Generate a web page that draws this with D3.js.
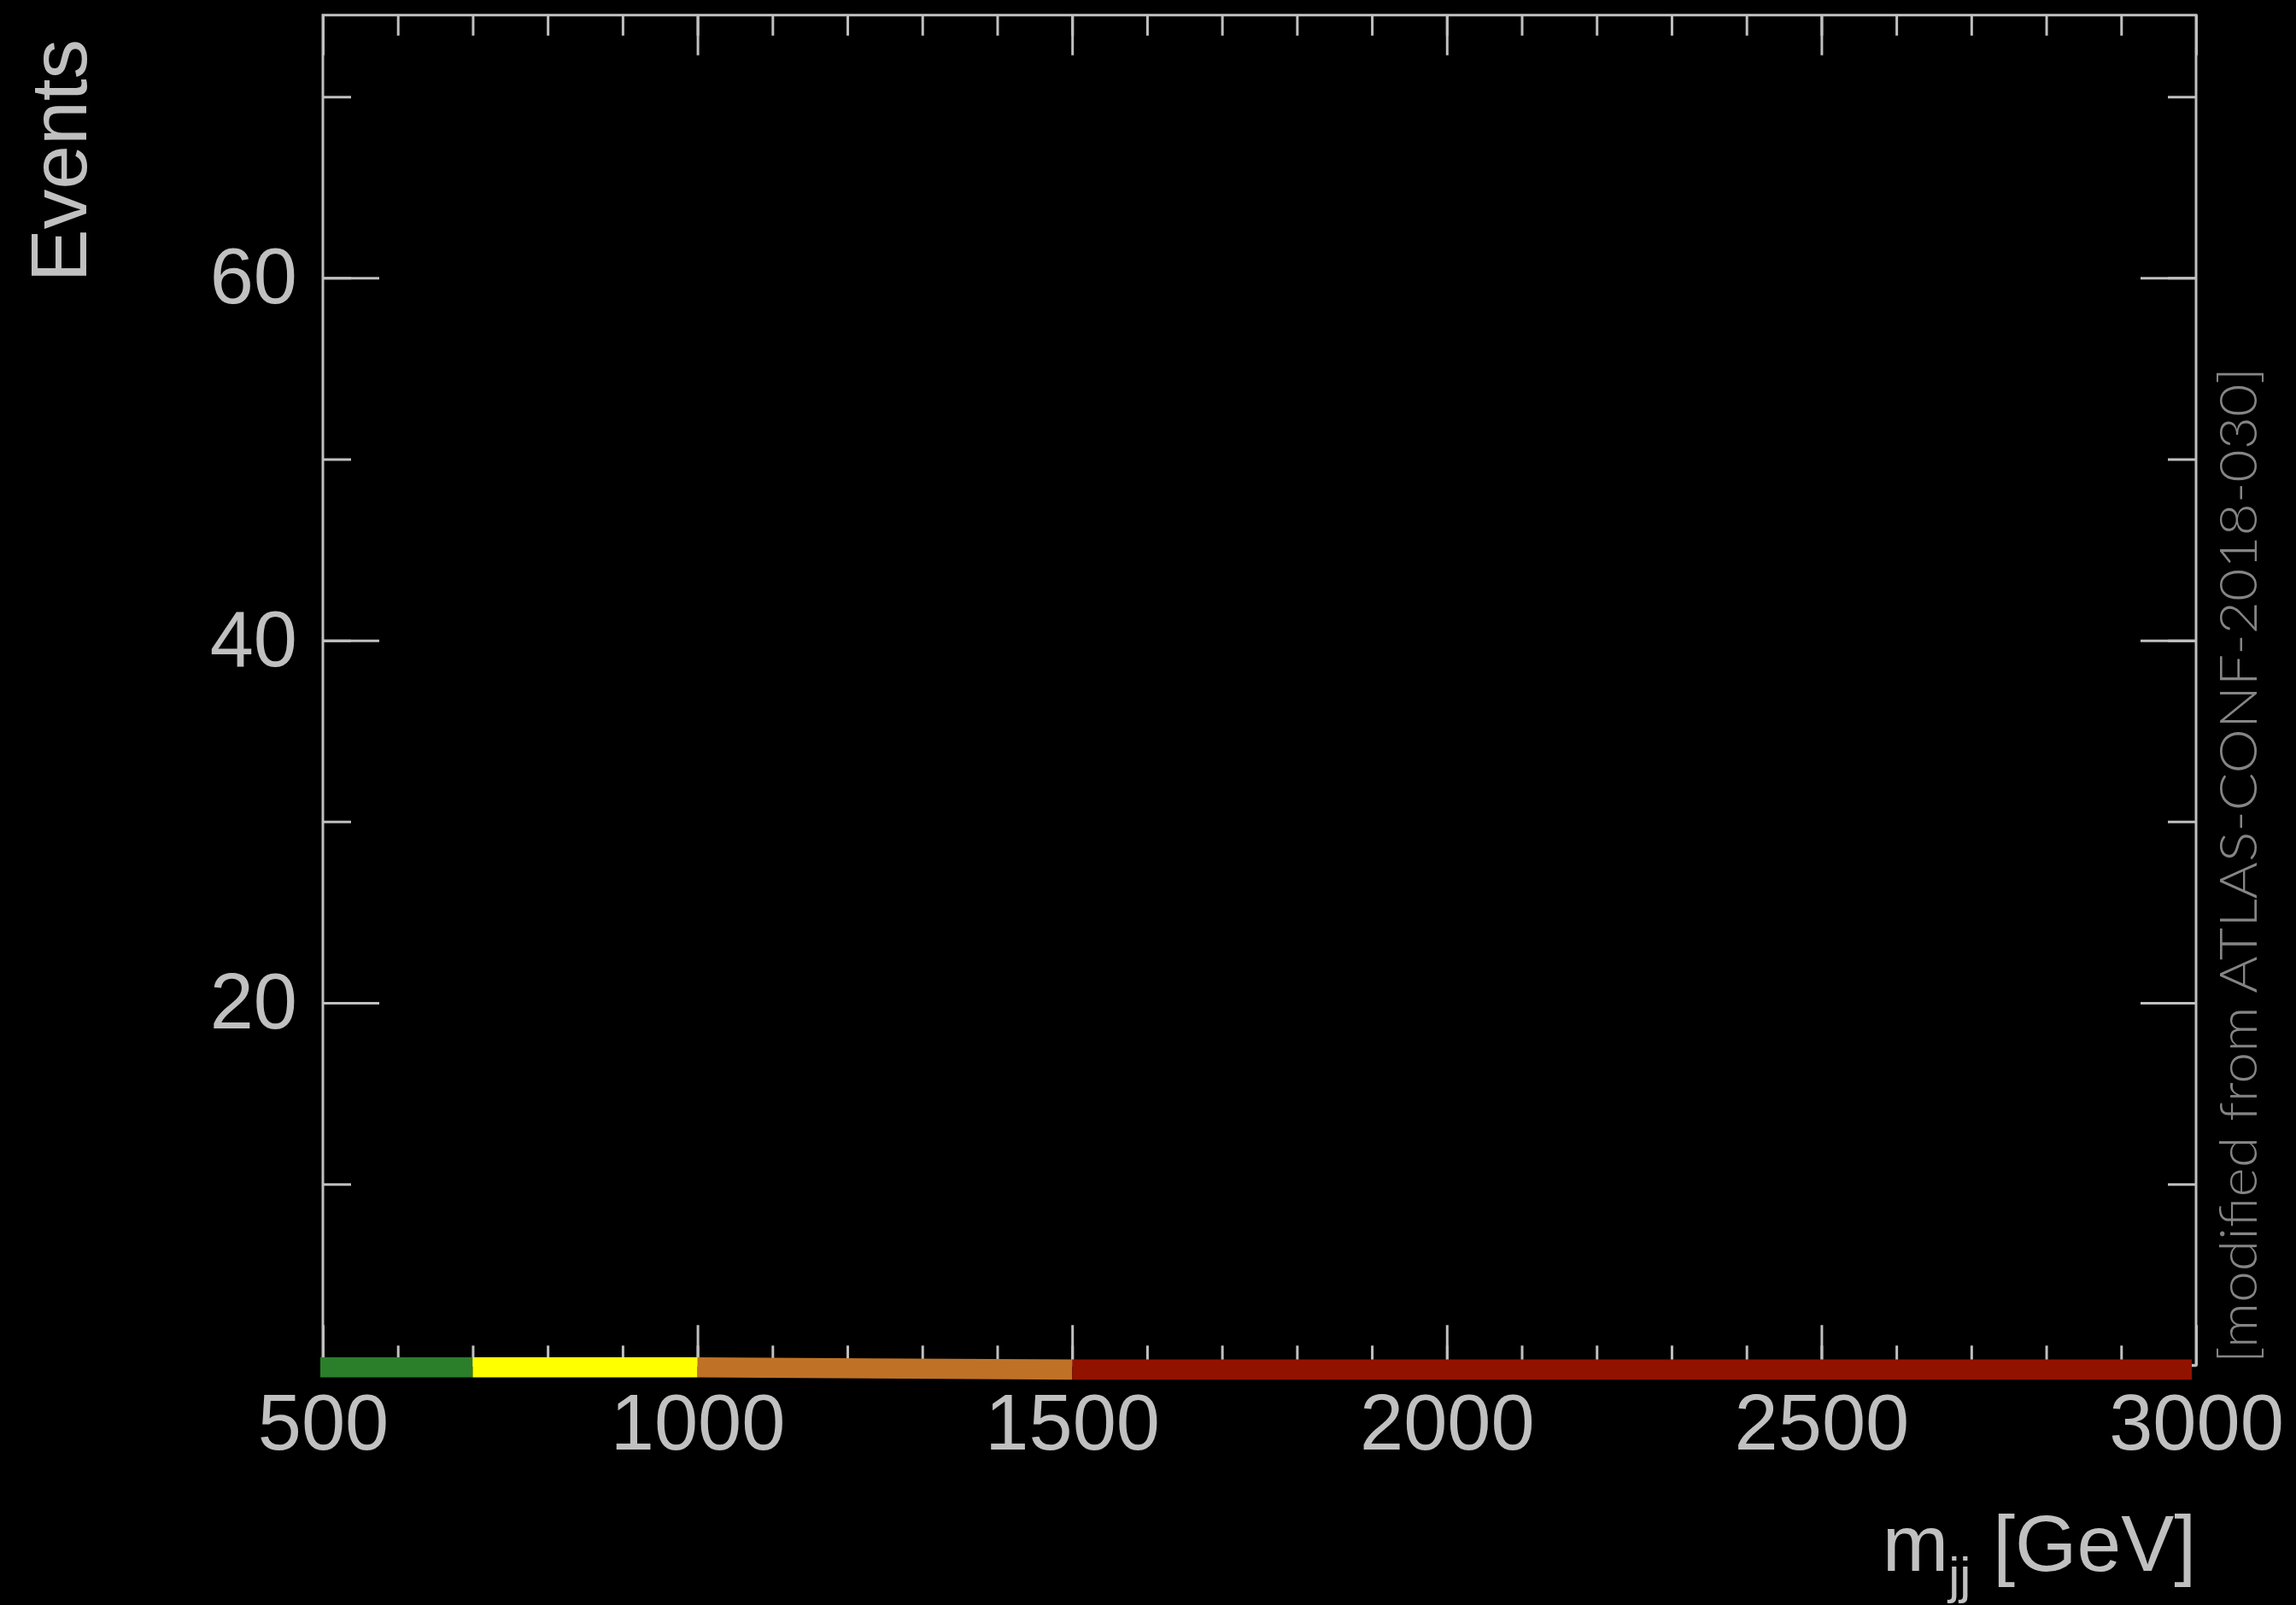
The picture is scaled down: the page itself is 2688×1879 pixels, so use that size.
<!DOCTYPE html>
<html>
<head>
<meta charset="utf-8">
<script src="https://cdn.jsdelivr.net/npm/d3@7"></script>
<style>
  html, body { margin: 0; padding: 0; background: #000; }
  svg { display: block; }
</style>
</head>
<body>
<svg id="chart" width="2688" height="1879"></svg>
<script>
// Axis ranges and tick marks
const xDomain = [500, 3000];
const yDomain = [0, 74.5];
const xMajorTicks = [500, 1000, 1500, 2000, 2500, 3000];
const xMinorTicks = d3.range(500, 3001, 100);
const yMajorTicks = [20, 40, 60];
const yMinorTicks = d3.range(0, 75, 10);

// Mass regions shown as a coloured strip along the baseline
const regionStart = [500, 700, 1000, 1500];
const regionEnd   = [700, 1000, 1500, 3000];
const regionColor = ["#2b7f2b", "#ffff00", "#bf7226", "#921200"];

const xTitle = "m";
const xTitleSub = "jj";
const xTitleUnit = " [GeV]";
const yTitle = "Events";
const sourceNote = "[modified from ATLAS-CONF-2018-030]";

// ---- layout ----
const W = 2688, H = 1879;
const plotLeft = 378, plotRight = 2571, plotTop = 17.7, plotBottom = 1598.3;
const axisColor = "#c0c0c0";
const font = "'Liberation Sans', Arial, Helvetica, sans-serif";
const tickFontSize = 92;

const svg = d3.select("#chart");
svg.append("rect").attr("width", W).attr("height", H).attr("fill", "#000");

const x = d3.scaleLinear().domain(xDomain).range([plotLeft, plotRight]);
const y = d3.scaleLinear().domain(yDomain).range([plotBottom, plotTop]);

// Frame
svg.append("rect")
  .attr("x", plotLeft).attr("y", plotTop)
  .attr("width", plotRight - plotLeft).attr("height", plotBottom - plotTop)
  .attr("fill", "none").attr("stroke", axisColor).attr("stroke-width", 3);

function styleAxis(g) {
  g.select(".domain").remove();
  g.selectAll(".tick line").attr("stroke", axisColor).attr("stroke-width", 3);
  g.selectAll(".tick text")
    .attr("fill", axisColor)
    .attr("font-family", font)
    .attr("font-size", tickFontSize);
}

// Minor ticks (inward)
svg.append("g").attr("transform", `translate(0,${plotBottom})`)
  .call(d3.axisBottom(x).tickValues(xMinorTicks).tickSize(-23).tickFormat(""))
  .call(styleAxis);
svg.append("g").attr("transform", `translate(0,${plotTop})`)
  .call(d3.axisTop(x).tickValues(xMinorTicks).tickSize(-24).tickFormat(""))
  .call(styleAxis);
svg.append("g").attr("transform", `translate(${plotLeft},0)`)
  .call(d3.axisLeft(y).tickValues(yMinorTicks).tickSize(-33).tickFormat(""))
  .call(styleAxis);
svg.append("g").attr("transform", `translate(${plotRight},0)`)
  .call(d3.axisRight(y).tickValues(yMinorTicks).tickSize(-33).tickFormat(""))
  .call(styleAxis);

// Major ticks with labels
svg.append("g").attr("transform", `translate(0,${plotBottom})`)
  .call(d3.axisBottom(x).tickValues(xMajorTicks).tickSize(-47).tickPadding(33).tickFormat(d3.format("d")))
  .call(styleAxis);
svg.append("g").attr("transform", `translate(0,${plotTop})`)
  .call(d3.axisTop(x).tickValues(xMajorTicks).tickSize(-47).tickFormat(""))
  .call(styleAxis);
svg.append("g").attr("transform", `translate(${plotLeft},0)`)
  .call(d3.axisLeft(y).tickValues(yMajorTicks).tickSize(-66).tickPadding(30).tickFormat(d3.format("d")))
  .call(styleAxis);
svg.append("g").attr("transform", `translate(${plotRight},0)`)
  .call(d3.axisRight(y).tickValues(yMajorTicks).tickSize(-65).tickFormat(""))
  .call(styleAxis);

// Coloured region strip; the strip sits slightly lower after 1 TeV
const stripHalf = 11.8;
const stripY0 = y(0) + 2.5;
const lean = v => v <= 1000 ? 0 : (v >= 1500 ? 2.6 : 2.6 * (v - 1000) / 500);
const regions = regionStart.map((s, i) => ({ s, e: regionEnd[i], c: regionColor[i] }));
svg.append("g").selectAll("path").data(regions).join("path")
  .attr("d", d => {
    const x0 = d.s === xDomain[0] ? x(d.s) - 3 : x(d.s);
    const x1 = d.e === xDomain[1] ? x(d.e) - 5 : x(d.e);
    const a = stripY0 + lean(d.s), b = stripY0 + lean(d.e);
    return `M${x0},${a - stripHalf}L${x1},${b - stripHalf}L${x1},${b + stripHalf}L${x0},${a + stripHalf}Z`;
  })
  .attr("fill", d => d.c);

// Axis titles
svg.append("text")
  .attr("transform", "translate(101,46) rotate(-90)")
  .attr("text-anchor", "end")
  .attr("fill", axisColor)
  .attr("font-family", font)
  .attr("font-size", 93)
  .text(yTitle);

const xt = svg.append("text")
  .attr("x", plotRight).attr("y", 1839)
  .attr("text-anchor", "end")
  .attr("fill", axisColor)
  .attr("font-family", font)
  .attr("font-size", 93);
xt.append("tspan").text(xTitle);
xt.append("tspan").attr("dy", 26).attr("font-size", 59).text(xTitleSub);
xt.append("tspan").attr("dy", -26).text(xTitleUnit);

// Source note along the right edge
svg.append("text")
  .attr("transform", "translate(2642,1596) rotate(-90)")
  .attr("text-anchor", "start")
  .attr("fill", "#858585")
  .attr("font-family", "Lato, 'Open Sans', sans-serif")
  .attr("font-weight", 300)
  .attr("font-size", 62)
  .attr("textLength", 1166)
  .attr("lengthAdjust", "spacingAndGlyphs")
  .text(sourceNote);
</script>
</body>
</html>
